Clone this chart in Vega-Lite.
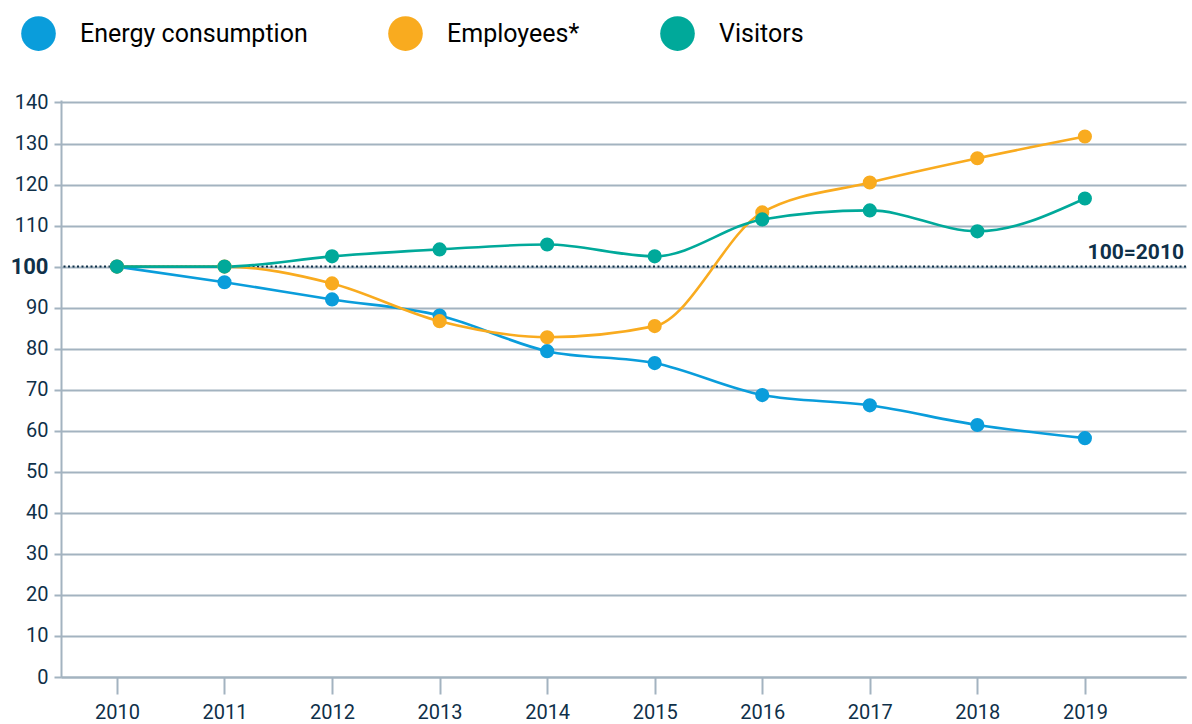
{
  "$schema": "https://vega.github.io/schema/vega-lite/v6.json",
  "width": 1125,
  "height": 577,
  "autosize": {"type": "none"},
  "padding": {"left": 61, "top": 100, "right": 6, "bottom": 47},
  "background": "white",
  "config": {
    "view": {"stroke": null},
    "font": "Roboto, sans-serif"
  },
  "datasets": {
    "series": [
      {"year": 2010, "series": "Energy consumption", "value": 100},
      {"year": 2011, "series": "Energy consumption", "value": 96.2},
      {"year": 2012, "series": "Energy consumption", "value": 92.0},
      {"year": 2013, "series": "Energy consumption", "value": 88.1},
      {"year": 2014, "series": "Energy consumption", "value": 79.4},
      {"year": 2015, "series": "Energy consumption", "value": 76.5},
      {"year": 2016, "series": "Energy consumption", "value": 68.7},
      {"year": 2017, "series": "Energy consumption", "value": 66.2},
      {"year": 2018, "series": "Energy consumption", "value": 61.4},
      {"year": 2019, "series": "Energy consumption", "value": 58.2},
      {"year": 2010, "series": "Employees*", "value": 100},
      {"year": 2011, "series": "Employees*", "value": 100},
      {"year": 2012, "series": "Employees*", "value": 95.9},
      {"year": 2013, "series": "Employees*", "value": 86.7},
      {"year": 2014, "series": "Employees*", "value": 82.8},
      {"year": 2015, "series": "Employees*", "value": 85.5},
      {"year": 2016, "series": "Employees*", "value": 113.2},
      {"year": 2017, "series": "Employees*", "value": 120.5},
      {"year": 2018, "series": "Employees*", "value": 126.4},
      {"year": 2019, "series": "Employees*", "value": 131.7},
      {"year": 2010, "series": "Visitors", "value": 100},
      {"year": 2011, "series": "Visitors", "value": 100},
      {"year": 2012, "series": "Visitors", "value": 102.5},
      {"year": 2013, "series": "Visitors", "value": 104.2},
      {"year": 2014, "series": "Visitors", "value": 105.4},
      {"year": 2015, "series": "Visitors", "value": 102.5},
      {"year": 2016, "series": "Visitors", "value": 111.5},
      {"year": 2017, "series": "Visitors", "value": 113.7},
      {"year": 2018, "series": "Visitors", "value": 108.6},
      {"year": 2019, "series": "Visitors", "value": 116.6}
    ],
    "baseline": [{"year": 2019.94, "value": 100, "label": "100=2010"}]
  },
  "layer": [
    {
      "data": {"name": "baseline"},
      "mark": {"type": "rule", "color": "#0f3049", "strokeWidth": 2, "strokeDash": [2, 2.5]},
      "encoding": {
        "y": {"field": "value", "type": "quantitative", "scale": {"domain": [0, 140.6]}}
      }
    },
    {
      "data": {"name": "series"},
      "mark": {"type": "line", "interpolate": "monotone", "strokeWidth": 2.6},
      "encoding": {
        "x": {
          "field": "year", "type": "quantitative",
          "scale": {"domain": [2009.48, 2019.94], "nice": false, "zero": false},
          "axis": {
            "title": null, "values": [2010, 2011, 2012, 2013, 2014, 2015, 2016, 2017, 2018, 2019],
            "format": "d", "grid": false, "tickSize": 17, "tickColor": "#a3b3c0", "tickWidth": 2,
            "domainColor": "#a3b3c0", "domainWidth": 2, "labelFontSize": 20, "labelColor": "#0f3049",
            "labelPadding": 8
          }
        },
        "y": {
          "field": "value", "type": "quantitative",
          "scale": {"domain": [0, 140.6], "nice": false},
          "axis": {
            "title": null, "values": [0, 10, 20, 30, 40, 50, 60, 70, 80, 90, 100, 110, 120, 130, 140],
            "grid": true, "gridColor": "#a3b3c0", "gridWidth": 2, "tickSize": 7, "tickColor": "#a3b3c0",
            "tickWidth": 2, "domainColor": "#a3b3c0", "domainWidth": 2, "labelColor": "#0f3049",
            "labelFontSize": {"condition": {"test": "datum.value === 100", "value": 22}, "value": 20},
            "labelFontWeight": {"condition": {"test": "datum.value === 100", "value": "bold"}, "value": "normal"},
            "labelPadding": 6
          }
        },
        "color": {
          "field": "series", "type": "nominal",
          "scale": {"domain": ["Energy consumption", "Employees*", "Visitors"], "range": ["#0a9ddb", "#f9ab1f", "#00a99a"]},
          "legend": {
            "title": null, "orient": "none", "direction": "horizontal", "legendX": -40, "legendY": -84,
            "symbolType": "circle", "symbolSize": 1200, "symbolStrokeWidth": 0, "symbolOpacity": 1,
            "labelFontSize": 25, "labelColor": "#000000", "labelOffset": 24, "columnPadding": 80,
            "labelLimit": 400
          }
        }
      }
    },
    {
      "data": {"name": "series"},
      "mark": {"type": "point", "filled": true, "opacity": 1, "size": 200, "shape": "circle"},
      "encoding": {
        "x": {"field": "year", "type": "quantitative"},
        "y": {"field": "value", "type": "quantitative"},
        "color": {"field": "series", "type": "nominal", "legend": null}
      }
    },
    {
      "data": {"name": "baseline"},
      "mark": {"type": "text", "align": "right", "baseline": "bottom", "dy": -4, "dx": -2, "fontWeight": "bold", "fontSize": 21, "color": "#0f3049"},
      "encoding": {
        "x": {"field": "year", "type": "quantitative"},
        "y": {"field": "value", "type": "quantitative"},
        "text": {"field": "label"}
      }
    }
  ]
}
